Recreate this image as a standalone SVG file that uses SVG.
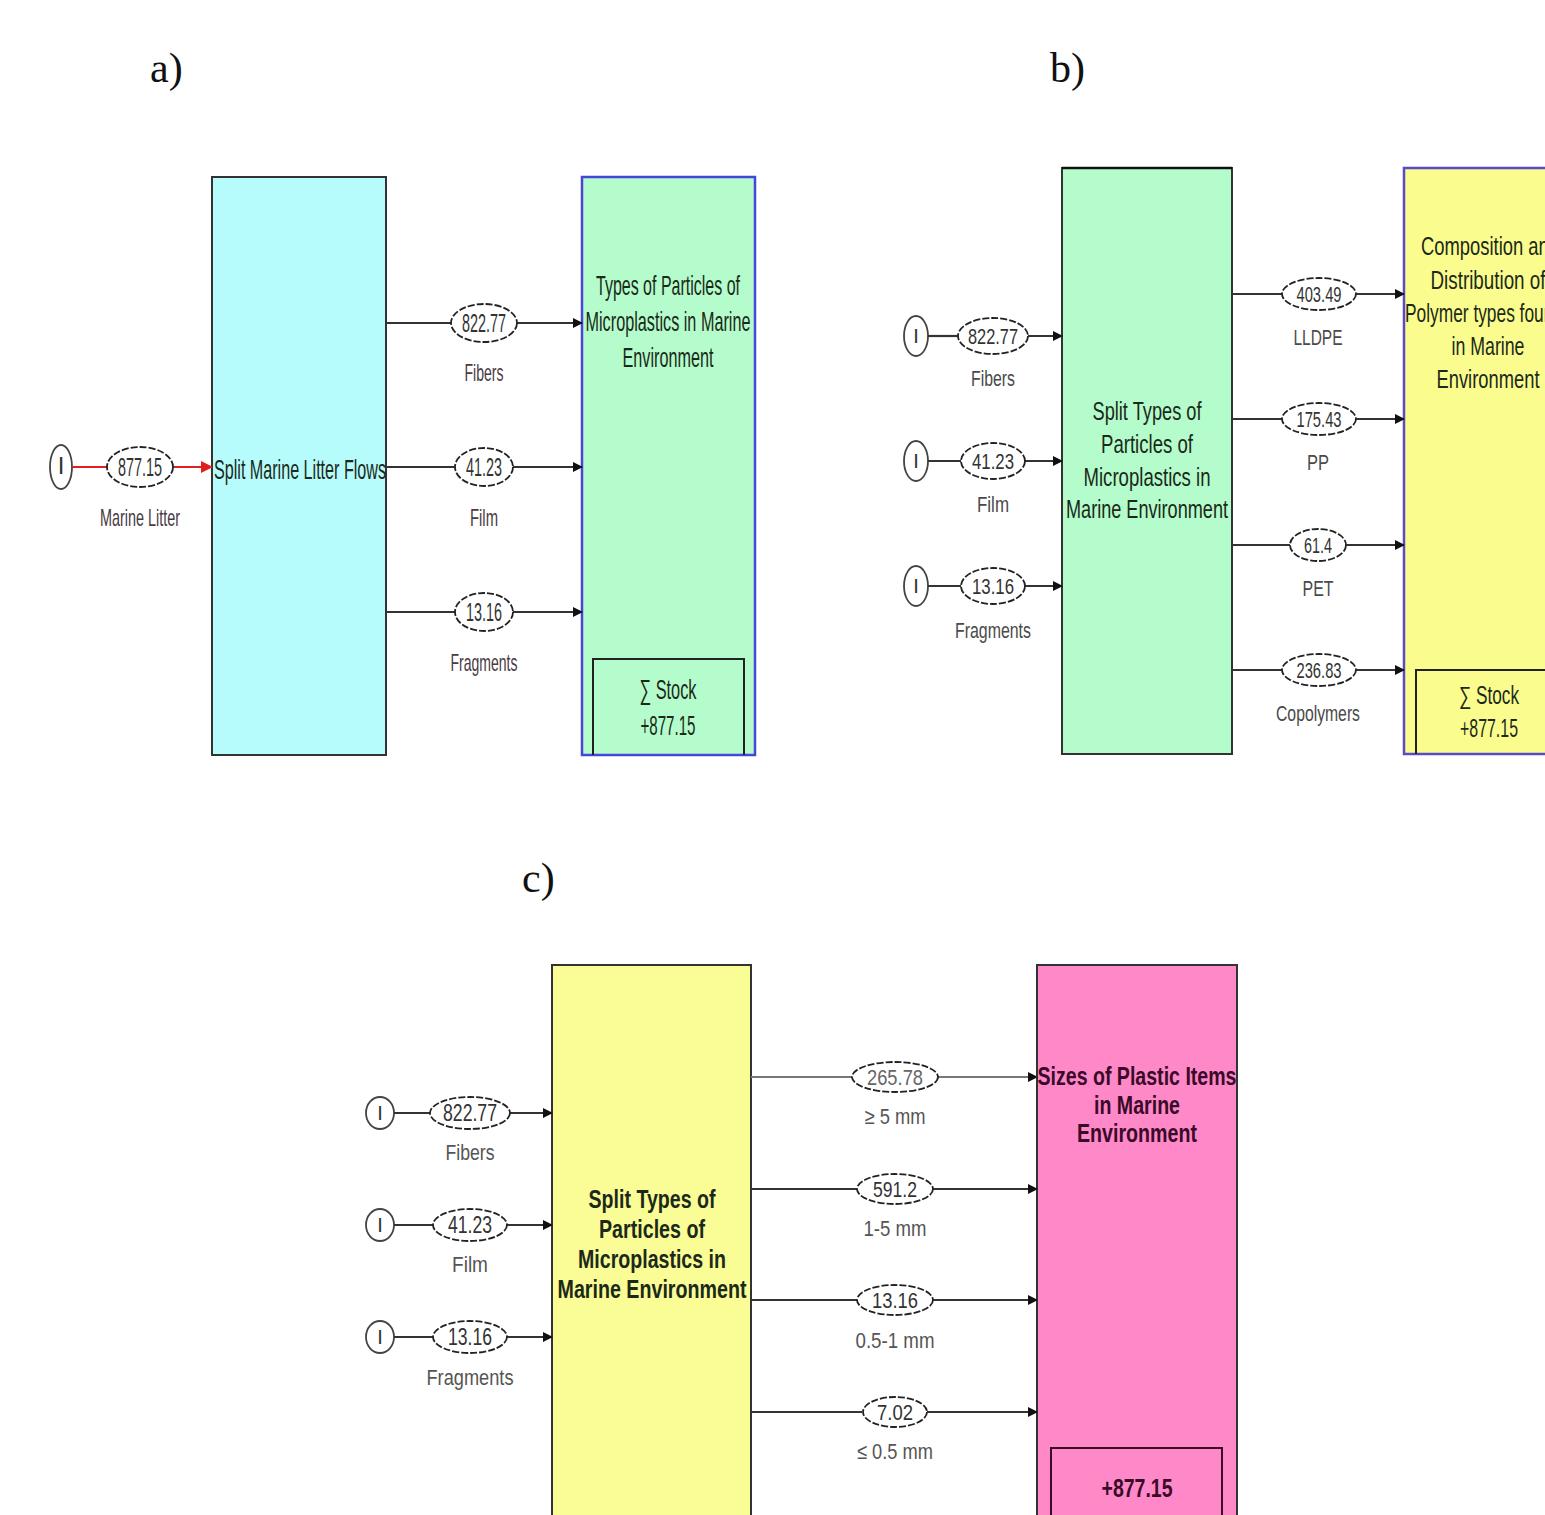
<svg xmlns="http://www.w3.org/2000/svg" width="1545" height="1515" viewBox="0 0 1545 1515">
<style>
text{font-family:"Liberation Sans",Arial,sans-serif;text-anchor:middle}
.pl{font-family:"Liberation Serif","Times New Roman",serif;font-size:42px;fill:#111;text-anchor:start}
.ta{font-size:28px;fill:#1b2a18}
.tbb{font-size:25px;fill:#1b2a18}
.tb{font-size:25px;fill:#1b2a18;font-weight:bold}
.na{font-size:26px;fill:#333}
.la{font-size:24px;fill:#4a3a44}
.nb{font-size:22px;fill:#333}
.lbb{font-size:22px;fill:#4a4a4a}
.nc{font-size:23px;fill:#333}
.lc{font-size:22px;fill:#555}
.i{font-size:20px;fill:#333}
.ell{fill:#fff;stroke:#222;stroke-width:1.8;stroke-dasharray:7 2}
.src{fill:#fff;stroke:#444;stroke-width:1.8}
.ln{stroke:#333;stroke-width:2.2;fill:none}
.red{stroke:#e02020;stroke-width:2.2;fill:none}
.box{stroke:#333;stroke-width:2}
</style>
<defs>
<marker id="ah" markerWidth="10" markerHeight="10" refX="9" refY="5" orient="auto" markerUnits="userSpaceOnUse">
<path d="M0,0 L10,5 L0,10 z" fill="#111"/>
</marker>
<marker id="ahr" markerWidth="12" markerHeight="12" refX="11" refY="6" orient="auto" markerUnits="userSpaceOnUse">
<path d="M0,0 L12,6 L0,12 z" fill="#e02020"/>
</marker>
</defs>
<rect width="1545" height="1515" fill="#fff"/>

<text class="pl" x="150" y="82">a)</text>
<text class="pl" x="1050" y="82">b)</text>
<text class="pl" x="522" y="892">c)</text>

<!-- Panel a -->
<g id="a-split">
<rect x="212" y="177" width="174" height="578" fill="#b6fcfc" class="box"/>
<text class="ta" x="300" y="479" textLength="172" lengthAdjust="spacingAndGlyphs">Split Marine Litter Flows</text>
</g>
<g id="a-types">
<rect x="582" y="177" width="173" height="578" fill="#b4fccc" stroke="#4646d8" stroke-width="2.5"/>
<text class="ta" x="668" y="295" textLength="144" lengthAdjust="spacingAndGlyphs">Types of Particles of</text>
<text class="ta" x="668" y="331" textLength="165" lengthAdjust="spacingAndGlyphs">Microplastics in Marine</text>
<text class="ta" x="668" y="367" textLength="91" lengthAdjust="spacingAndGlyphs">Environment</text>
<path d="M593,755 V659 H744 V755" fill="none" stroke="#222" stroke-width="2"/>
<text class="ta" x="668" y="699" textLength="57" lengthAdjust="spacingAndGlyphs">∑ Stock</text>
<text class="ta" x="668" y="735" textLength="55" lengthAdjust="spacingAndGlyphs">+877.15</text>
</g>
<g id="a-src">
<ellipse class="src" cx="61" cy="467" rx="11" ry="22"/>
<text class="i" x="61" y="474" style="font-size:24px">I</text>
</g>

<!-- Panel b -->
<g id="b-split">
<rect x="1062" y="168" width="170" height="586" fill="#b4fccc" class="box"/>
<line x1="1062" y1="168" x2="1232" y2="168" stroke="#111" stroke-width="2.5"/>
<text class="tbb" x="1147" y="420" textLength="109" lengthAdjust="spacingAndGlyphs">Split Types of</text>
<text class="tbb" x="1147" y="453" textLength="92" lengthAdjust="spacingAndGlyphs">Particles of</text>
<text class="tbb" x="1147" y="486" textLength="127" lengthAdjust="spacingAndGlyphs">Microplastics in</text>
<text class="tbb" x="1147" y="518" textLength="162" lengthAdjust="spacingAndGlyphs">Marine Environment</text>
</g>
<g id="b-comp">
<rect x="1404" y="168" width="160" height="586" fill="#fbfc8e" stroke="#5a4ac8" stroke-width="2.5"/>
<text class="tbb" x="1490" y="255" textLength="138" lengthAdjust="spacingAndGlyphs">Composition and</text>
<text class="tbb" x="1488" y="289" textLength="115" lengthAdjust="spacingAndGlyphs">Distribution of</text>
<text class="tbb" x="1484" y="322" textLength="158" lengthAdjust="spacingAndGlyphs">Polymer types found</text>
<text class="tbb" x="1488" y="355" textLength="73" lengthAdjust="spacingAndGlyphs">in Marine</text>
<text class="tbb" x="1488" y="388" textLength="103" lengthAdjust="spacingAndGlyphs">Environment</text>
<path d="M1416,754 V670 H1560" fill="none" stroke="#222" stroke-width="2"/>
<text class="tbb" x="1489" y="704" textLength="60" lengthAdjust="spacingAndGlyphs">∑ Stock</text>
<text class="tbb" x="1489" y="737" textLength="58" lengthAdjust="spacingAndGlyphs">+877.15</text>
</g>
<g id="b-src1"><ellipse class="src" cx="916" cy="336" rx="12" ry="20"/><text class="i" x="916" y="343">I</text></g>
<g id="b-src2"><ellipse class="src" cx="916" cy="461" rx="12" ry="20"/><text class="i" x="916" y="468">I</text></g>
<g id="b-src3"><ellipse class="src" cx="916" cy="586" rx="12" ry="20"/><text class="i" x="916" y="593">I</text></g>

<!-- Panel c -->
<g id="c-split">
<rect x="552" y="965" width="199" height="560" fill="#fafc96" class="box"/>
<text class="tb" x="652" y="1208" textLength="127" lengthAdjust="spacingAndGlyphs">Split Types of</text>
<text class="tb" x="652" y="1238" textLength="106" lengthAdjust="spacingAndGlyphs">Particles of</text>
<text class="tb" x="652" y="1268" textLength="148" lengthAdjust="spacingAndGlyphs">Microplastics in</text>
<text class="tb" x="652" y="1298" textLength="189" lengthAdjust="spacingAndGlyphs">Marine Environment</text>
</g>
<g id="c-sizes">
<rect x="1037" y="965" width="200" height="560" fill="#fe88c8" class="box"/>
<text class="tb" x="1137" y="1085" textLength="199" lengthAdjust="spacingAndGlyphs" style="fill:#3a0a28">Sizes of Plastic Items</text>
<text class="tb" x="1137" y="1114" textLength="86" lengthAdjust="spacingAndGlyphs" style="fill:#3a0a28">in Marine</text>
<text class="tb" x="1137" y="1142" textLength="120" lengthAdjust="spacingAndGlyphs" style="fill:#3a0a28">Environment</text>
<path d="M1051,1525 V1448 H1222 V1525" fill="none" stroke="#3a0a28" stroke-width="2"/>
<text class="tb" x="1137" y="1497" textLength="71" lengthAdjust="spacingAndGlyphs" style="fill:#3a0a28">+877.15</text>
</g>
<g id="c-src1"><ellipse class="src" cx="380" cy="1113" rx="14" ry="16"/><text class="i" x="380" y="1120">I</text></g>
<g id="c-src2"><ellipse class="src" cx="380" cy="1225" rx="14" ry="16"/><text class="i" x="380" y="1232">I</text></g>
<g id="c-src3"><ellipse class="src" cx="380" cy="1337" rx="14" ry="16"/><text class="i" x="380" y="1344">I</text></g>

<!-- Connectors -->
<g id="connectors">
<!-- a -->
<line class="red" x1="72" y1="467" x2="107" y2="467"/>
<line class="red" x1="173" y1="467" x2="212" y2="467" marker-end="url(#ahr)"/>
<ellipse class="ell" cx="140" cy="467" rx="33" ry="20"/>
<text class="na" x="140" y="476" textLength="44" lengthAdjust="spacingAndGlyphs">877.15</text>
<text class="la" x="140" y="526" textLength="80" lengthAdjust="spacingAndGlyphs">Marine Litter</text>

<line class="ln" x1="386" y1="323" x2="451" y2="323"/>
<line class="ln" x1="517" y1="323" x2="582" y2="323" marker-end="url(#ah)"/>
<ellipse class="ell" cx="484" cy="323" rx="33" ry="19"/>
<text class="na" x="484" y="332" textLength="44" lengthAdjust="spacingAndGlyphs">822.77</text>
<text class="la" x="484" y="381" textLength="39" lengthAdjust="spacingAndGlyphs">Fibers</text>

<line class="ln" x1="386" y1="467" x2="455" y2="467"/>
<line class="ln" x1="513" y1="467" x2="582" y2="467" marker-end="url(#ah)"/>
<ellipse class="ell" cx="484" cy="467" rx="29" ry="19"/>
<text class="na" x="484" y="476" textLength="36" lengthAdjust="spacingAndGlyphs">41.23</text>
<text class="la" x="484" y="526" textLength="28" lengthAdjust="spacingAndGlyphs">Film</text>

<line class="ln" x1="386" y1="612" x2="455" y2="612"/>
<line class="ln" x1="513" y1="612" x2="582" y2="612" marker-end="url(#ah)"/>
<ellipse class="ell" cx="484" cy="612" rx="29" ry="19"/>
<text class="na" x="484" y="621" textLength="36" lengthAdjust="spacingAndGlyphs">13.16</text>
<text class="la" x="484" y="671" textLength="67" lengthAdjust="spacingAndGlyphs">Fragments</text>

<!-- b inputs -->
<line class="ln" x1="928" y1="336" x2="958" y2="336"/>
<line class="ln" x1="1028" y1="336" x2="1062" y2="336" marker-end="url(#ah)"/>
<ellipse class="ell" cx="993" cy="336" rx="35" ry="18"/>
<text class="nb" x="993" y="344" textLength="50" lengthAdjust="spacingAndGlyphs">822.77</text>
<text class="lbb" x="993" y="386" textLength="44" lengthAdjust="spacingAndGlyphs">Fibers</text>

<line class="ln" x1="928" y1="461" x2="961" y2="461"/>
<line class="ln" x1="1025" y1="461" x2="1062" y2="461" marker-end="url(#ah)"/>
<ellipse class="ell" cx="993" cy="461" rx="32" ry="18"/>
<text class="nb" x="993" y="469" textLength="42" lengthAdjust="spacingAndGlyphs">41.23</text>
<text class="lbb" x="993" y="512" textLength="32" lengthAdjust="spacingAndGlyphs">Film</text>

<line class="ln" x1="928" y1="586" x2="961" y2="586"/>
<line class="ln" x1="1025" y1="586" x2="1062" y2="586" marker-end="url(#ah)"/>
<ellipse class="ell" cx="993" cy="586" rx="32" ry="18"/>
<text class="nb" x="993" y="594" textLength="42" lengthAdjust="spacingAndGlyphs">13.16</text>
<text class="lbb" x="993" y="638" textLength="76" lengthAdjust="spacingAndGlyphs">Fragments</text>

<!-- b outputs -->
<line class="ln" x1="1232" y1="294" x2="1282" y2="294"/>
<line class="ln" x1="1356" y1="294" x2="1404" y2="294" marker-end="url(#ah)"/>
<ellipse class="ell" cx="1319" cy="294" rx="37" ry="16"/>
<text class="nb" x="1319" y="302" textLength="45" lengthAdjust="spacingAndGlyphs">403.49</text>
<text class="lbb" x="1318" y="345" textLength="49" lengthAdjust="spacingAndGlyphs">LLDPE</text>

<line class="ln" x1="1232" y1="419" x2="1282" y2="419"/>
<line class="ln" x1="1356" y1="419" x2="1404" y2="419" marker-end="url(#ah)"/>
<ellipse class="ell" cx="1319" cy="419" rx="37" ry="16"/>
<text class="nb" x="1319" y="427" textLength="45" lengthAdjust="spacingAndGlyphs">175.43</text>
<text class="lbb" x="1318" y="470" textLength="22" lengthAdjust="spacingAndGlyphs">PP</text>

<line class="ln" x1="1232" y1="545" x2="1290" y2="545"/>
<line class="ln" x1="1346" y1="545" x2="1404" y2="545" marker-end="url(#ah)"/>
<ellipse class="ell" cx="1318" cy="545" rx="28" ry="16"/>
<text class="nb" x="1318" y="553" textLength="28" lengthAdjust="spacingAndGlyphs">61.4</text>
<text class="lbb" x="1318" y="596" textLength="31" lengthAdjust="spacingAndGlyphs">PET</text>

<line class="ln" x1="1232" y1="670" x2="1282" y2="670"/>
<line class="ln" x1="1356" y1="670" x2="1404" y2="670" marker-end="url(#ah)"/>
<ellipse class="ell" cx="1319" cy="670" rx="37" ry="16"/>
<text class="nb" x="1319" y="678" textLength="45" lengthAdjust="spacingAndGlyphs">236.83</text>
<text class="lbb" x="1318" y="721" textLength="84" lengthAdjust="spacingAndGlyphs">Copolymers</text>

<!-- c inputs -->
<line class="ln" x1="394" y1="1113" x2="430" y2="1113"/>
<line class="ln" x1="510" y1="1113" x2="552" y2="1113" marker-end="url(#ah)"/>
<ellipse class="ell" cx="470" cy="1113" rx="40" ry="16"/>
<text class="nc" x="470" y="1121" textLength="54" lengthAdjust="spacingAndGlyphs">822.77</text>
<text class="lc" x="470" y="1160" textLength="49" lengthAdjust="spacingAndGlyphs">Fibers</text>

<line class="ln" x1="394" y1="1225" x2="433" y2="1225"/>
<line class="ln" x1="507" y1="1225" x2="552" y2="1225" marker-end="url(#ah)"/>
<ellipse class="ell" cx="470" cy="1225" rx="37" ry="16"/>
<text class="nc" x="470" y="1233" textLength="44" lengthAdjust="spacingAndGlyphs">41.23</text>
<text class="lc" x="470" y="1272" textLength="36" lengthAdjust="spacingAndGlyphs">Film</text>

<line class="ln" x1="394" y1="1337" x2="433" y2="1337"/>
<line class="ln" x1="507" y1="1337" x2="552" y2="1337" marker-end="url(#ah)"/>
<ellipse class="ell" cx="470" cy="1337" rx="37" ry="16"/>
<text class="nc" x="470" y="1345" textLength="44" lengthAdjust="spacingAndGlyphs">13.16</text>
<text class="lc" x="470" y="1385" textLength="87" lengthAdjust="spacingAndGlyphs">Fragments</text>

<!-- c outputs -->
<line class="ln" x1="751" y1="1077" x2="852" y2="1077" style="stroke:#777"/>
<line class="ln" x1="938" y1="1077" x2="1037" y2="1077" marker-end="url(#ah)" style="stroke:#777"/>
<ellipse class="ell" cx="895" cy="1077" rx="43" ry="15"/>
<text class="nb" x="895" y="1085" textLength="56" lengthAdjust="spacingAndGlyphs" style="fill:#666">265.78</text>
<text class="lc" x="895" y="1124" textLength="61" lengthAdjust="spacingAndGlyphs">≥ 5 mm</text>

<line class="ln" x1="751" y1="1189" x2="857" y2="1189"/>
<line class="ln" x1="933" y1="1189" x2="1037" y2="1189" marker-end="url(#ah)"/>
<ellipse class="ell" cx="895" cy="1189" rx="38" ry="15"/>
<text class="nb" x="895" y="1197" textLength="44" lengthAdjust="spacingAndGlyphs">591.2</text>
<text class="lc" x="895" y="1236" textLength="63" lengthAdjust="spacingAndGlyphs">1-5 mm</text>

<line class="ln" x1="751" y1="1300" x2="857" y2="1300"/>
<line class="ln" x1="933" y1="1300" x2="1037" y2="1300" marker-end="url(#ah)"/>
<ellipse class="ell" cx="895" cy="1300" rx="38" ry="15"/>
<text class="nb" x="895" y="1308" textLength="46" lengthAdjust="spacingAndGlyphs">13.16</text>
<text class="lc" x="895" y="1348" textLength="79" lengthAdjust="spacingAndGlyphs">0.5-1 mm</text>

<line class="ln" x1="751" y1="1412" x2="862" y2="1412"/>
<line class="ln" x1="927" y1="1412" x2="1037" y2="1412" marker-end="url(#ah)"/>
<ellipse class="ell" cx="895" cy="1412" rx="32" ry="15"/>
<text class="nb" x="895" y="1420" textLength="36" lengthAdjust="spacingAndGlyphs">7.02</text>
<text class="lc" x="895" y="1459" textLength="76" lengthAdjust="spacingAndGlyphs">≤ 0.5 mm</text>
</g>
</svg>
